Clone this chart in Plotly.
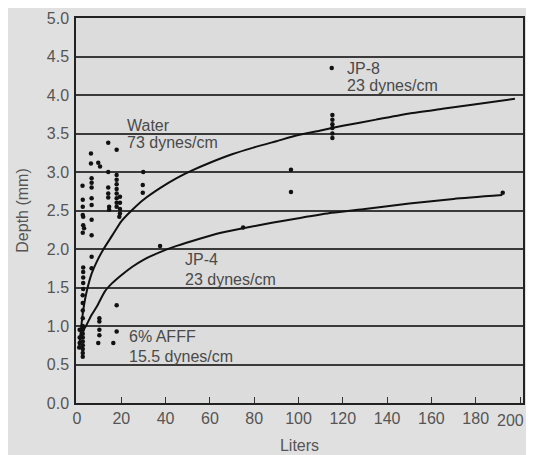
import plotly.graph_objects as go

# Measured points (Liters, Depth mm)
point_x = [2.5, 2.6, 2.6, 2.6, 2.8, 2.8, 3.2, 2.6,
           2.8, 2.8, 2.8, 2.8, 2.8,
           2.6, 2.6, 2.6, 2.6, 2.6, 2.6, 2.6, 2.6, 2.6, 2.6, 2.6, 2.6, 2.6,
           1.2, 1.2, 1.2, 1.0,
           6.3, 6.3, 6.6, 6.6, 6.6, 6.6, 6.6, 6.6, 6.6, 6.6, 6.6,
           9.6, 10.4, 10.1, 10.1, 10.1, 10.1, 9.6,
           14.1, 14.1, 14.1, 14.1, 14.1, 14.5, 14.5,
           16.4,
           17.9, 17.9, 17.9, 17.9, 17.9, 17.9, 17.9, 17.9, 17.9, 17.9, 17.9,
           19.4, 19.4, 19.4, 19.4, 19.1,
           29.9, 29.7, 29.7,
           37.5, 75, 96.6, 96.6,
           115, 115.3, 115.3, 115.3, 115.3, 115.3, 115.3,
           192.2]
point_y = [2.82, 2.64, 2.55, 2.44, 2.42, 2.31, 2.27, 2.21,
           1.76, 1.70, 1.63, 1.56, 1.48,
           1.40, 1.30, 1.20, 1.10, 1.00, 0.95, 0.90, 0.85, 0.80, 0.75, 0.70, 0.65, 0.60,
           0.95, 0.85, 0.78, 0.72,
           3.24, 3.11, 2.92, 2.86, 2.80, 2.66, 2.57, 2.38, 2.18, 1.90, 1.75,
           3.12, 3.07, 1.10, 1.06, 0.95, 0.88, 0.78,
           3.38, 3.00, 2.80, 2.72, 2.67, 2.55, 2.51,
           0.78,
           3.29, 2.96, 2.90, 2.84, 2.78, 2.72, 2.66, 2.60, 2.55, 1.27, 0.93,
           2.68, 2.60, 2.52, 2.46, 2.42,
           3.00, 2.83, 2.73,
           2.04, 2.28, 3.03, 2.74,
           4.35, 3.74, 3.68, 3.62, 3.57, 3.50, 3.44,
           2.73]

# Fitted curves
water_x = [1.0, 1.5, 2.1, 3.0, 4.4, 6.6, 9.0, 12, 16, 20, 25, 30, 38, 45, 52, 60, 70, 80, 90, 100,
           110, 120, 135, 150, 165, 180, 197.7]
water_y = [0.72, 0.88, 1.04, 1.24, 1.45, 1.68, 1.84, 2.00, 2.18, 2.36, 2.51, 2.64, 2.80, 2.92, 3.02,
           3.12, 3.23, 3.32, 3.40, 3.48, 3.54, 3.60, 3.68, 3.76, 3.82, 3.88, 3.95]

jp4_x = [1.5, 2.5, 4.4, 6.5, 8.9, 12.6, 16, 20, 25, 30, 37.5, 45, 55, 65, 75, 88, 100, 115, 130,
         150, 170, 192]
jp4_y = [0.82, 0.92, 1.02, 1.14, 1.25, 1.45, 1.56, 1.66, 1.77, 1.86, 1.96, 2.04, 2.13, 2.21, 2.27,
         2.34, 2.40, 2.47, 2.52, 2.59, 2.65, 2.70]

x_ticks = [0, 20, 40, 60, 80, 100, 120, 140, 160, 180, 200]
x_tick_text = ["0", "20", "40", "60", "80", "100", "120", "140", "160", "180", ""]
last_x_label = "200"
y_ticks = [0.0, 0.5, 1.0, 1.5, 2.0, 2.5, 3.0, 3.5, 4.0, 4.5, 5.0]
y_tick_text = ["0.0", "0.5", "1.0", "1.5", "2.0", "2.5", "3.0", "3.5", "4.0", "4.5", "5.0"]

labels = [
    ("Water", 21.7, 3.61), ("73 dynes/cm", 21.7, 3.38),
    ("JP-8", 121, 4.35), ("23 dynes/cm", 121, 4.12),
    ("JP-4", 47.9, 1.86), ("23 dynes/cm", 47.9, 1.61),
    ("6% AFFF", 22.6, 0.86), ("15.5 dynes/cm", 22.6, 0.60),
]

FONT = "Liberation Sans, Arial, Helvetica, sans-serif"
TXT = "#555555"

fig = go.Figure()
fig.add_trace(go.Scatter(x=water_x, y=water_y, mode="lines",
                         line=dict(color="#111111", width=2, shape="spline", smoothing=0.6),
                         hoverinfo="skip", showlegend=False))
fig.add_trace(go.Scatter(x=jp4_x, y=jp4_y, mode="lines",
                         line=dict(color="#111111", width=2, shape="spline", smoothing=0.6),
                         hoverinfo="skip", showlegend=False))
fig.add_trace(go.Scatter(x=point_x, y=point_y, mode="markers",
                         marker=dict(color="#111111", size=4.5),
                         showlegend=False))

for txt, x, y in labels:
    fig.add_annotation(x=x, y=y, text=txt, showarrow=False, xanchor="left", yanchor="middle",
                       font=dict(family=FONT, size=16, color="#4a4a4a"))

# last x tick label kept inside the visible window
fig.add_annotation(x=x_ticks[-1], xref="x", y=0, yref="paper", text=last_x_label,
                   showarrow=False, xanchor="right", yanchor="top", xshift=6, yshift=-7,
                   font=dict(family=FONT, size=16, color=TXT))

fig.update_xaxes(range=[-0.45, 201.35], tickmode="array", tickvals=x_ticks, ticktext=x_tick_text,
                 ticks="inside", ticklen=6, tickcolor="#333333", tickwidth=1,
                 showgrid=False, zeroline=False, showline=True, linecolor="#222222",
                 linewidth=1.5, mirror=True, automargin=False,
                 tickfont=dict(family=FONT, size=16, color=TXT),
                 title=dict(text="Liters", font=dict(family=FONT, size=16, color=TXT), standoff=14))
fig.update_yaxes(range=[0, 5], tickmode="array", tickvals=y_ticks, ticktext=y_tick_text,
                 ticks="", showgrid=True, gridcolor="#3a3a3a", gridwidth=1.5,
                 zeroline=False, showline=True, linecolor="#222222", linewidth=1.5, mirror=True,
                 automargin=False, ticklabelstandoff=2,
                 tickfont=dict(family=FONT, size=16, color=TXT),
                 title=dict(text="Depth (mm)", font=dict(family=FONT, size=16, color=TXT), standoff=14))

# page has an 8px body margin at top/left, so the figure is 8px smaller
fig.update_layout(width=526, height=447,
                  margin=dict(l=68, r=11, t=10, b=52),
                  paper_bgcolor="#e0e0e0", plot_bgcolor="#dcdcdc",
                  font=dict(family=FONT, color=TXT))

fig.write_html("out.html")
